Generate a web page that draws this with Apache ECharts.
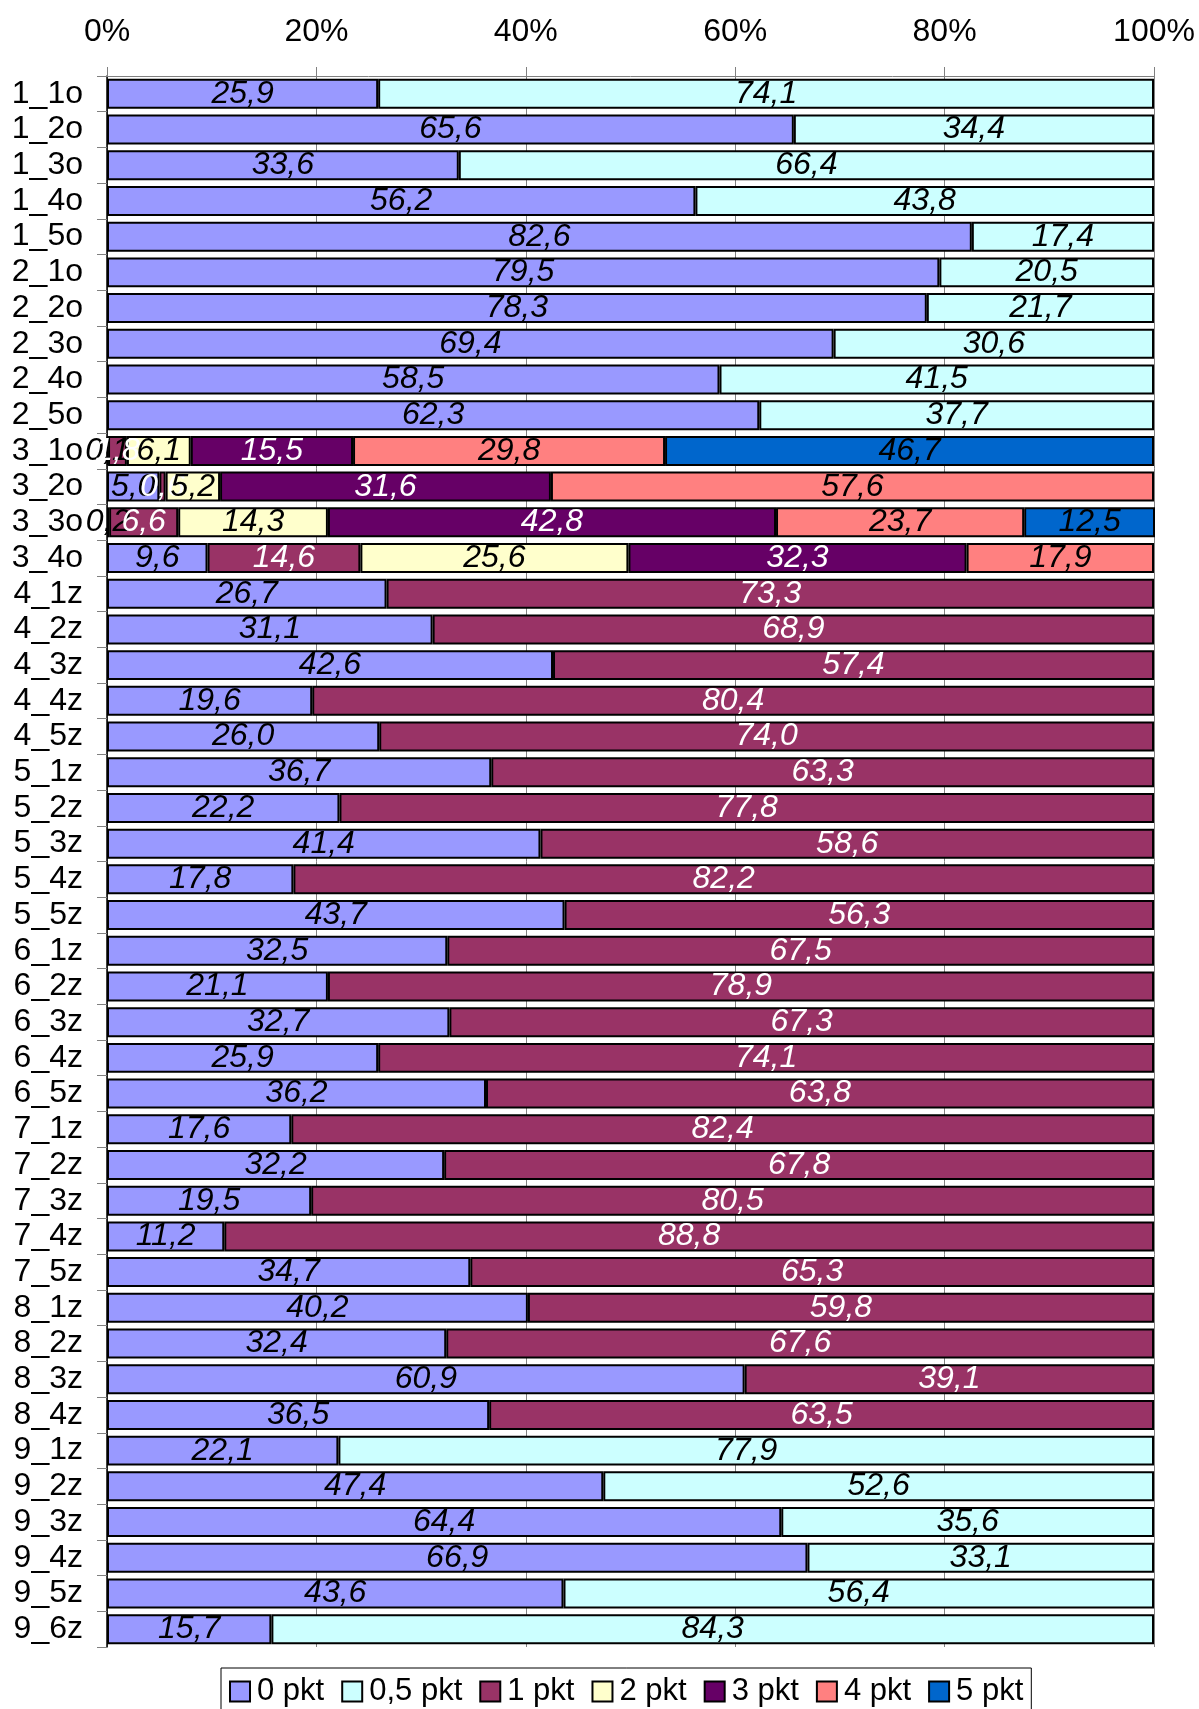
<!DOCTYPE html>
<html lang="pl">
<head>
    <meta charset="UTF-8">
    <title>Wyniki zadań</title>
    <script src="https://cdn.jsdelivr.net/npm/echarts@6/dist/echarts.min.js"></script>
    <style>
        html, body { margin: 0; padding: 0; background: #ffffff; }
        #chart { width: 1199px; height: 1709px; }
    </style>
</head>
<body>
    <div id="chart"></div>
    <script>
        // kategorie (zadania)
        const categories = [
            '1_1o', '1_2o', '1_3o', '1_4o', '1_5o',
            '2_1o', '2_2o', '2_3o', '2_4o', '2_5o',
            '3_1o', '3_2o', '3_3o', '3_4o',
            '4_1z', '4_2z', '4_3z', '4_4z', '4_5z',
            '5_1z', '5_2z', '5_3z', '5_4z', '5_5z',
            '6_1z', '6_2z', '6_3z', '6_4z', '6_5z',
            '7_1z', '7_2z', '7_3z', '7_4z', '7_5z',
            '8_1z', '8_2z', '8_3z', '8_4z',
            '9_1z', '9_2z', '9_3z', '9_4z', '9_5z', '9_6z'
        ];

        const seriesNames = ['0 pkt', '0,5 pkt', '1 pkt', '2 pkt', '3 pkt', '4 pkt', '5 pkt'];

        const pkt0 = [
            25.9, 65.6, 33.6, 56.2, 82.6,
            79.5, 78.3, 69.4, 58.5, 62.3,
            0.1, 5.0, 0.2, 9.6,
            26.7, 31.1, 42.6, 19.6, 26.0,
            36.7, 22.2, 41.4, 17.8, 43.7,
            32.5, 21.1, 32.7, 25.9, 36.2,
            17.6, 32.2, 19.5, 11.2, 34.7,
            40.2, 32.4, 60.9, 36.5,
            22.1, 47.4, 64.4, 66.9, 43.6, 15.7
        ];
        const pkt05 = [
            74.1, 34.4, 66.4, 43.8, 17.4,
            20.5, 21.7, 30.6, 41.5, 37.7,
            null, null, null, null,
            null, null, null, null, null,
            null, null, null, null, null,
            null, null, null, null, null,
            null, null, null, null, null,
            null, null, null, null,
            77.9, 52.6, 35.6, 33.1, 56.4, 84.3
        ];
        const pkt1 = [
            null, null, null, null, null,
            null, null, null, null, null,
            1.8, 0.6, 6.6, 14.6,
            73.3, 68.9, 57.4, 80.4, 74.0,
            63.3, 77.8, 58.6, 82.2, 56.3,
            67.5, 78.9, 67.3, 74.1, 63.8,
            82.4, 67.8, 80.5, 88.8, 65.3,
            59.8, 67.6, 39.1, 63.5,
            null, null, null, null, null, null
        ];
        const pad = n => new Array(n).fill(null);
        const pkt2 = pad(10).concat([6.1, 5.2, 14.3, 25.6], pad(30));
        const pkt3 = pad(10).concat([15.5, 31.6, 42.8, 32.3], pad(30));
        const pkt4 = pad(10).concat([29.8, 57.6, 23.7, 17.9], pad(30));
        const pkt5 = pad(10).concat([46.7, null, 12.5, null], pad(30));

        const xTicks = [0, 20, 40, 60, 80, 100];

        const seriesData = [pkt0, pkt05, pkt1, pkt2, pkt3, pkt4, pkt5];
        const colors = ['#9999FF', '#CCFFFF', '#993366', '#FFFFCC', '#660066', '#FF8080', '#0066CC'];
        const labelColors = ['#000', '#000', '#fff', '#000', '#fff', '#000', '#000'];

        var myChart = echarts.init(document.getElementById('chart'));

        var option = {
            animation: false,
            textStyle: { fontFamily: 'Liberation Sans, Arial, sans-serif' },
            grid: { left: 107, right: 45, top: 76, bottom: 62 },
            legend: {
                left: 221,
                top: 1668,
                padding: [8, 8, 10, 8],
                borderColor: '#000',
                borderWidth: 1,
                itemGap: 17,
                itemWidth: 20,
                itemHeight: 20,
                icon: 'rect',
                itemStyle: { borderColor: '#000', borderWidth: 2 },
                textStyle: { fontSize: 31, color: '#000', padding: [0, 0, 0, 2] },
                data: seriesNames
            },
            xAxis: {
                type: 'value',
                position: 'top',
                min: xTicks[0],
                max: xTicks[xTicks.length - 1],
                interval: 20,
                axisLabel: { formatter: '{value}%', fontSize: 32, color: '#000', margin: 28 },
                axisLine: { show: true, lineStyle: { color: '#808080', width: 1 } },
                axisTick: { show: true, length: 9, lineStyle: { color: '#808080' } },
                splitLine: { show: true, lineStyle: { color: '#808080', width: 1 } }
            },
            yAxis: {
                type: 'category',
                inverse: true,
                data: categories,
                axisLabel: { fontSize: 32, color: '#000', margin: 24, interval: 0 },
                axisLine: { show: true, lineStyle: { color: '#000', width: 1.5 } },
                axisTick: { show: true, length: 10, interval: 0, lineStyle: { color: '#808080' } }
            },
            series: seriesData.map((d, i) => ({
                name: seriesNames[i],
                type: 'bar',
                stack: 'total',
                barCategoryGap: '16%',
                data: d,
                itemStyle: { color: colors[i], borderColor: '#000', borderWidth: 2 },
                label: {
                    show: true,
                    position: 'inside',
                    fontSize: 32,
                    fontStyle: 'italic',
                    color: labelColors[i],
                    formatter: p => p.value == null ? '' : p.value.toFixed(1).replace('.', ',')
                },
                labelLayout: { hideOverlap: false }
            }))
        };

        myChart.setOption(option);
    </script>
</body>
</html>
